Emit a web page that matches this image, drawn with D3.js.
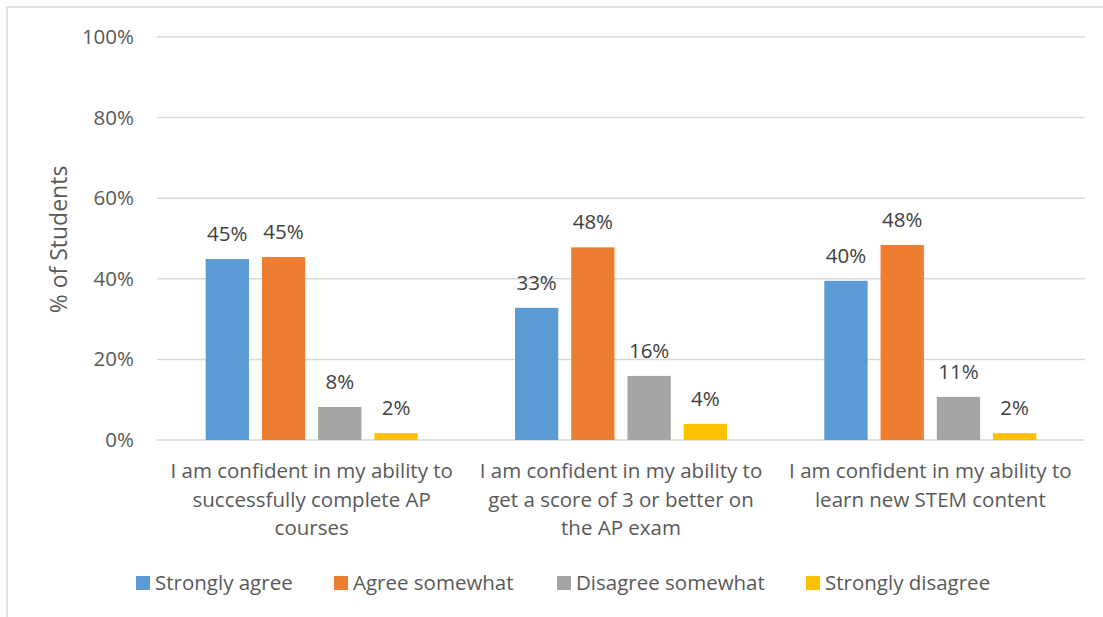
<!DOCTYPE html>
<html>
<head>
<meta charset="utf-8">
<script src="https://cdn.jsdelivr.net/npm/d3@7"></script>
<style>
  body { margin: 0; background: #fff; }
  text { font-family: "Open Sans", "Noto Sans", sans-serif; }
</style>
</head>
<body>
<div id="chart"></div>
<script>
const categories = [
    ["I am confident in my ability to", "successfully complete AP", "courses"],
    ["I am confident in my ability to", "get a score of 3 or better on", "the AP exam"],
    ["I am confident in my ability to", "learn new STEM content"]
];
const seriesNames = ["Strongly agree", "Agree somewhat", "Disagree somewhat", "Strongly disagree"];
const seriesColors = ["#5b9bd5", "#ed7d31", "#a5a5a5", "#ffc000"];
const stronglyAgree = [44.9, 32.8, 39.5];
const agreeSomewhat = [45.4, 47.8, 48.4];
const disagreeSomewhat = [8.2, 15.9, 10.7];
const stronglyDisagree = [1.7, 4.0, 1.7];
const yTicks = [0, 20, 40, 60, 80, 100];

const svgWidth = 1103;
const svgHeight = 617;
const margin = { top: 37, right: 18, bottom: 177, left: 157 };
const chartWidth = svgWidth - margin.left - margin.right;
const chartHeight = svgHeight - margin.top - margin.bottom;

const values = [stronglyAgree, agreeSomewhat, disagreeSomewhat, stronglyDisagree];

let svg = d3.select("#chart").append("svg")
    .attr("width", svgWidth).attr("height", svgHeight);

// outer frame
svg.append("rect")
    .attr("x", 7).attr("y", 7)
    .attr("width", svgWidth + 20).attr("height", svgHeight + 20)
    .attr("fill", "none").attr("stroke", "#d9d9d9").attr("stroke-width", 1.5);

let g = svg.append("g").attr("transform", `translate(${margin.left},${margin.top})`);

let x0 = d3.scaleBand().domain(d3.range(categories.length)).range([0, chartWidth]).padding(0);
let x1 = d3.scaleBand().domain(d3.range(seriesNames.length))
    .range([0, x0.bandwidth()]).paddingInner(0.23).paddingOuter(0.865);
let y = d3.scaleLinear().domain([0, 100]).range([chartHeight, 0]);

// gridlines
g.append("g").selectAll("line").data(yTicks).enter().append("line")
    .attr("x1", 0).attr("x2", chartWidth)
    .attr("y1", d => y(d)).attr("y2", d => y(d))
    .attr("stroke", "#d9d9d9").attr("stroke-width", 1.5);

// y axis labels
let yAxis = g.append("g").call(d3.axisLeft(y).tickValues(yTicks).tickFormat(d => d + "%").tickSize(0).tickPadding(23));
yAxis.select(".domain").remove();
yAxis.selectAll("text").attr("fill", "#595959").style("font-size", "20.5px")
    .style("font-family", "'Open Sans', sans-serif");

// axis title
svg.append("text")
    .attr("transform", `translate(67,${margin.top + chartHeight / 2 + 1}) rotate(-90)`)
    .attr("text-anchor", "middle")
    .attr("fill", "#595959").style("font-size", "23px")
    .text("% of Students");

// bars
let groups = g.selectAll(".grp").data(categories).enter().append("g")
    .attr("transform", (d, i) => `translate(${x0(i)},0)`);

groups.each(function (c, ci) {
    let grp = d3.select(this);
    values.forEach((vals, si) => {
        grp.append("rect")
            .attr("x", x1(si)).attr("width", x1.bandwidth())
            .attr("y", y(vals[ci])).attr("height", chartHeight - y(vals[ci]))
            .attr("fill", seriesColors[si]);
        grp.append("text")
            .attr("x", x1(si) + x1.bandwidth() / 2)
            .attr("y", y(vals[ci]) - 18)
            .attr("text-anchor", "middle")
            .attr("fill", "#404040").style("font-size", "20.5px")
            .text(Math.round(vals[ci]) + "%");
    });
    let lbl = grp.append("text")
        .attr("text-anchor", "middle")
        .attr("fill", "#595959").style("font-size", "20.5px");
    c.forEach((line, li) => {
        lbl.append("tspan").attr("x", x0.bandwidth() / 2)
            .attr("y", chartHeight + 38 + li * 28.5).text(line);
    });
});

// legend
const legendX = [136, 334, 557, 806];
let legend = svg.append("g").attr("transform", "translate(0,576)");
seriesNames.forEach((name, i) => {
    legend.append("rect").attr("x", legendX[i]).attr("y", 0)
        .attr("width", 14).attr("height", 14).attr("fill", seriesColors[i]);
    legend.append("text").attr("x", legendX[i] + 19).attr("y", 14)
        .attr("fill", "#595959").style("font-size", "20.5px").text(name);
});
</script>
</body>
</html>
